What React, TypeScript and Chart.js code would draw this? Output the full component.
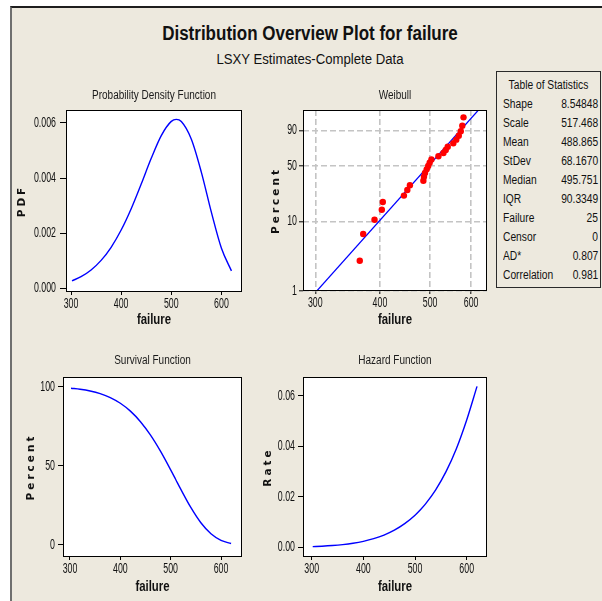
import React, { useEffect, useRef } from 'react';
import { Chart, registerables } from 'chart.js';

Chart.register(...registerables);

// ---------------- data ----------------
const curveFailure = [302, 320, 340, 360, 380, 400, 420, 440, 460, 480, 500, 510, 520, 540, 560, 580, 600, 620];
const pdfValues = [0.000281, 0.000432, 0.000675, 0.001021, 0.001495, 0.002118, 0.00289, 0.003783, 0.004713, 0.005536, 0.006048, 0.006121, 0.006042, 0.005402, 0.004205, 0.002756, 0.00146, 0.00064];
const survivalPercent = [99.0, 98.37, 97.28, 95.6, 93.11, 89.52, 84.54, 77.88, 69.38, 59.1, 47.44, 41.35, 35.25, 23.7, 14.02, 7.05, 2.89, 0.92];
const hazardRate = [0.000283, 0.000439, 0.000694, 0.001068, 0.001606, 0.002365, 0.003419, 0.004857, 0.006793, 0.009367, 0.012748, 0.014803, 0.01714, 0.022789, 0.029989, 0.039083, 0.050481, 0.0638];

const weibullFailure = [365.6, 371.2, 390.4, 403.3, 405.1, 445.0, 451.8, 457.0, 485.2, 486.5, 488.7, 492.4, 495.7, 499.0, 502.9, 518.8, 530.5, 536.0, 540.8, 554.3, 561.7, 568.0, 573.1, 577.0, 580.1];
const weibullPercent = [2.76, 6.69, 10.63, 14.57, 18.5, 22.44, 26.38, 30.31, 34.25, 38.19, 42.13, 46.06, 50.0, 53.94, 57.87, 61.81, 65.75, 69.69, 73.62, 77.56, 81.5, 85.43, 89.37, 93.31, 97.24];
const fitLineFailure = [302, 620];
const fitLinePercent = [1, 99];

const failureTicks = [300, 400, 500, 600];
const pdfTicks = [0, 0.002, 0.004, 0.006];
const pdfTickLabels = ['0.000', '0.002', '0.004', '0.006'];
const weibullTicks = [1, 10, 50, 90];
const weibullTickLabels = ['1', '10', '50', '90'];
const survivalTicks = [0, 50, 100];
const survivalTickLabels = ['0', '50', '100'];
const hazardTicks = [0, 0.02, 0.04, 0.06];
const hazardTickLabels = ['0.00', '0.02', '0.04', '0.06'];

const statLabels = ['Shape', 'Scale', 'Mean', 'StDev', 'Median', 'IQR', 'Failure', 'Censor', 'AD*', 'Correlation'];
const statValues = ['8.54848', '517.468', '488.865', '68.1670', '495.751', '90.3349', '25', '0', '0.807', '0.981'];

// ---------------- styles ----------------
const SANS = '"Liberation Sans", Arial, sans-serif';
const BG = '#EDE9DE';
const BLUE = '#0000FF';
const RED = '#FF0000';
const TICK_SIZE = 14;
const PANEL_TITLE_SIZE = 12.5;
const X_TITLE_SIZE = 15;

const weib = (pct: number) => Math.log(-Math.log(1 - pct / 100));

// ---------------- plugins ----------------
const boxPlugin = {
  id: 'panelBox',
  beforeDraw(chart: any) {
    const { ctx, chartArea: a } = chart;
    ctx.save();
    ctx.fillStyle = '#ffffff';
    ctx.fillRect(a.left, a.top, a.right - a.left, a.bottom - a.top);
    ctx.restore();
  },
  afterDraw(chart: any) {
    const { ctx, chartArea: a } = chart;
    ctx.save();
    ctx.strokeStyle = '#000';
    ctx.lineWidth = 1;
    const l = Math.round(a.left) + 0.5;
    const t = Math.round(a.top) + 0.5;
    const r = Math.round(a.right) - 0.5;
    const b = Math.round(a.bottom) - 0.5;
    ctx.strokeRect(l, t, r - l, b - t);
    ctx.restore();
  },
};

// condensed text rendering (the reference uses narrow glyphs)
const condensePlugin = {
  id: 'condense',
  beforeDraw(chart: any) {
    const ctx: any = chart.ctx;
    if (ctx.__condensed) return;
    const orig = ctx.fillText.bind(ctx);
    ctx.fillText = (text: string, x: number, y: number, maxWidth?: number) => {
      const f: string = ctx.font || '';
      let k = 0.8;
      if (f.includes('DejaVu')) k = 1;
      else if (f.includes('bold') || f.includes('700')) k = 0.76;
      else if (f.includes(TICK_SIZE + 'px')) k = 0.63;
      const w = ctx.measureText(text).width * k;
      const mw = maxWidth !== undefined && maxWidth !== null ? Math.min(maxWidth, w) : w;
      orig(text, x, y, mw);
    };
    ctx.__condensed = true;
  },
};

const spacingPlugin = {
  id: 'yTitleSpacing',
  afterLayout(chart: any) {
    const s: any = chart.scales.y;
    if (s && !s.__spaced) {
      const orig = s.drawTitle.bind(s);
      s.drawTitle = function () {
        const c: any = s.ctx;
        c.save();
        c.letterSpacing = '3px';
        orig();
        c.restore();
      };
      s.__spaced = true;
    }
  },
};

// ---------------- panels ----------------
type PanelSpec = {
  key: string;
  x: number; y: number; w: number; h: number;
  box: { l: number; t: number; r: number; b: number };
  title: string; titleY: number;
  yTitle: string; yTitleX: number; xTitleY: number;
  xType: 'linear' | 'logarithmic'; xMin: number; xMax: number;
  yMin: number; yMax: number; yTicks: number[]; yLabels: string[];
  yTickLen: number; yTickPad: number;
  grid: boolean;
  datasets: any[];
};

const curveDataset = (ys: number[]) => ({
  data: curveFailure.map((x, i) => ({ x, y: ys[i] })),
  showLine: true,
  borderColor: BLUE,
  borderWidth: 1.4,
  pointRadius: 0,
  tension: 0.4,
  cubicInterpolationMode: 'monotone',
  fill: false,
});

const PANELS: PanelSpec[] = [
  {
    key: 'pdf', x: 12, y: 82, w: 240, h: 252,
    box: { l: 66, t: 110, r: 242, b: 292 },
    title: 'Probability Density Function', titleY: 96,
    yTitle: 'PDF', yTitleX: 22.3, xTitleY: 320,
    xType: 'linear', xMin: 290, xMax: 641,
    yMin: -0.000123, yMax: 0.00646, yTicks: pdfTicks, yLabels: pdfTickLabels,
    yTickLen: 6, yTickPad: 4, grid: false,
    datasets: [curveDataset(pdfValues)],
  },
  {
    key: 'weibull', x: 256, y: 82, w: 236, h: 252,
    box: { l: 303, t: 110, r: 487, b: 291 },
    title: 'Weibull', titleY: 96,
    yTitle: 'Percent', yTitleX: 276.3, xTitleY: 320,
    xType: 'logarithmic', xMin: 284, xMax: 644,
    yMin: weib(1), yMax: weib(99), yTicks: weibullTicks.map(weib), yLabels: weibullTickLabels,
    yTickLen: 4, yTickPad: 2, grid: true,
    datasets: [
      {
        data: weibullFailure.map((x, i) => ({ x, y: weib(weibullPercent[i]) })),
        showLine: false,
        pointRadius: 3.2,
        pointBorderWidth: 0,
        backgroundColor: RED,
        borderColor: RED,
      },
      {
        data: fitLineFailure.map((x, i) => ({ x, y: weib(fitLinePercent[i]) })),
        showLine: true,
        borderColor: BLUE,
        borderWidth: 1.2,
        pointRadius: 0,
        fill: false,
      },
    ],
  },
  {
    key: 'survival', x: 12, y: 346, w: 240, h: 254,
    box: { l: 63, t: 377, r: 242, b: 557 },
    title: 'Survival Function', titleY: 361,
    yTitle: 'Percent', yTitleX: 31.7, xTitleY: 586.7,
    xType: 'linear', xMin: 286.1, xMax: 641.7,
    yMin: -7.6, yMax: 106.1, yTicks: survivalTicks, yLabels: survivalTickLabels,
    yTickLen: 5, yTickPad: 3, grid: false,
    datasets: [curveDataset(survivalPercent)],
  },
  {
    key: 'hazard', x: 256, y: 346, w: 236, h: 254,
    box: { l: 303, t: 377, r: 487, b: 557 },
    title: 'Hazard Function', titleY: 361,
    yTitle: 'Rate', yTitleX: 268.3, xTitleY: 586.7,
    xType: 'linear', xMin: 283.2, xMax: 639.3,
    yMin: -0.00385, yMax: 0.06753, yTicks: hazardTicks, yLabels: hazardTickLabels,
    yTickLen: 5, yTickPad: 3, grid: false,
    datasets: [curveDataset(hazardRate)],
  },
];

function buildConfig(p: PanelSpec): any {
  const titleLH = 16;
  const yTitleLH = 12;
  const xTitleLH = 14;
  const gridColor = '#c4c4c4';
  const tickFont = { family: SANS, size: TICK_SIZE };
  return {
    type: 'scatter',
    data: { datasets: p.datasets },
    options: {
      responsive: false,
      animation: false,
      events: [],
      layout: { autoPadding: false, padding: { left: 0, top: 0, bottom: 0, right: p.x + p.w - p.box.r } },
      plugins: {
        legend: { display: false },
        tooltip: { enabled: false },
        title: {
          display: true,
          text: p.title,
          fullSize: false,
          color: '#1a1a1a',
          font: { family: SANS, size: PANEL_TITLE_SIZE, weight: 'normal', lineHeight: titleLH + 'px' },
          padding: { top: p.titleY - p.y - titleLH / 2, bottom: p.box.t - p.titleY - titleLH / 2 },
        },
      },
      scales: {
        x: {
          type: p.xType,
          position: 'bottom',
          min: p.xMin,
          max: p.xMax,
          afterBuildTicks: (s: any) => {
            s.ticks = failureTicks.map((v) => ({ value: v }));
          },
          afterFit: (s: any) => {
            s.height = p.y + p.h - p.box.b;
          },
          ticks: {
            autoSkip: false,
            maxRotation: 0,
            minRotation: 0,
            padding: 1,
            color: '#111',
            font: tickFont,
            callback: (_v: any, i: number) => String(failureTicks[i]),
          },
          grid: {
            display: true,
            drawOnChartArea: p.grid,
            drawTicks: true,
            tickLength: 3,
            tickColor: '#000',
            tickWidth: 1,
            color: gridColor,
            lineWidth: p.grid ? 1.6 : 1,
          },
          border: { display: false, dash: p.grid ? [6, 3] : [] },
          title: {
            display: true,
            text: 'failure',
            color: '#111',
            font: { family: SANS, size: X_TITLE_SIZE, weight: 'bold', lineHeight: xTitleLH + 'px' },
            padding: { top: 0, bottom: p.y + p.h - p.xTitleY - xTitleLH / 2 },
          },
        },
        y: {
          type: 'linear',
          position: 'left',
          min: p.yMin,
          max: p.yMax,
          afterBuildTicks: (s: any) => {
            s.ticks = p.yTicks.map((v) => ({ value: v }));
          },
          afterFit: (s: any) => {
            s.width = p.box.l - p.x;
          },
          ticks: {
            autoSkip: false,
            padding: p.yTickPad,
            color: '#111',
            font: tickFont,
            callback: (_v: any, i: number) => p.yLabels[i],
          },
          grid: {
            display: true,
            drawOnChartArea: p.grid,
            drawTicks: true,
            tickLength: p.yTickLen,
            tickColor: '#000',
            tickWidth: 1,
            color: gridColor,
            lineWidth: p.grid ? 1.6 : 1,
          },
          border: { display: false, dash: p.grid ? [6, 3] : [] },
          title: {
            display: true,
            text: p.yTitle,
            color: '#111',
            font: { family: '"DejaVu Sans", Verdana, sans-serif', size: 10.5, weight: 'bold', lineHeight: yTitleLH + 'px' },
            padding: { top: p.yTitleX - p.x - yTitleLH / 2, bottom: 0 },
          },
        },
      },
    },
    plugins: [boxPlugin, condensePlugin, spacingPlugin],
  };
}

function PanelChart({ spec }: { spec: PanelSpec }) {
  const ref = useRef<HTMLCanvasElement>(null);
  useEffect(() => {
    if (!ref.current) return;
    const chart = new Chart(ref.current, buildConfig(spec));
    return () => chart.destroy();
  }, [spec]);
  return (
    <canvas
      ref={ref}
      width={spec.w}
      height={spec.h}
      style={{ position: 'absolute', left: spec.x, top: spec.y, width: spec.w, height: spec.h }}
    />
  );
}

function StatsTable() {
  const rowH = 19;
  const sq = 0.82;
  return (
    <div
      style={{
        position: 'absolute',
        left: 496,
        top: 71,
        width: 105,
        height: 217,
        boxSizing: 'border-box',
        border: '1px solid #2a2a2a',
        background: BG,
        fontFamily: SANS,
        fontSize: 12.5,
        color: '#111',
        paddingTop: 3.5,
      }}
    >
      <div
        style={{
          height: rowH,
          lineHeight: rowH + 'px',
          textAlign: 'center',
          whiteSpace: 'nowrap',
          transform: `scaleX(${sq})`,
        }}
      >
        Table of Statistics
      </div>
      {statLabels.map((lab, i) => (
        <div key={lab} style={{ position: 'relative', height: rowH, lineHeight: rowH + 'px' }}>
          <span
            style={{
              position: 'absolute',
              left: 6,
              whiteSpace: 'nowrap',
              transform: `scaleX(${sq})`,
              transformOrigin: 'left center',
            }}
          >
            {lab}
          </span>
          <span
            style={{
              position: 'absolute',
              right: 2,
              whiteSpace: 'nowrap',
              transform: `scaleX(${sq})`,
              transformOrigin: 'right center',
            }}
          >
            {statValues[i]}
          </span>
        </div>
      ))}
    </div>
  );
}

export default function App() {
  return (
    <div
      style={{
        position: 'fixed',
        left: 0,
        top: 0,
        width: 602,
        height: 601,
        background: '#ffffff',
        overflow: 'hidden',
      }}
    >
      <div
        style={{
          position: 'absolute',
          left: 10,
          top: 6,
          right: 0,
          bottom: 0,
          background: BG,
          borderTop: '2px solid #1e1e1e',
          borderLeft: '2px solid #6f6f6f',
        }}
      />
      <div
        style={{
          position: 'absolute',
          left: 10,
          width: 600,
          top: 21,
          lineHeight: '24px',
          textAlign: 'center',
          fontFamily: SANS,
          fontWeight: 'bold',
          fontSize: 20,
          color: '#111',
          whiteSpace: 'nowrap',
          transform: 'scaleX(0.85)',
        }}
      >
        Distribution Overview Plot for failure
      </div>
      <div
        style={{
          position: 'absolute',
          left: 10,
          width: 600,
          top: 49,
          lineHeight: '20px',
          textAlign: 'center',
          fontFamily: SANS,
          fontSize: 15.5,
          color: '#111',
          whiteSpace: 'nowrap',
          transform: 'scaleX(0.85)',
        }}
      >
        LSXY Estimates-Complete Data
      </div>
      {PANELS.map((p) => (
        <PanelChart key={p.key} spec={p} />
      ))}
      <StatsTable />
    </div>
  );
}
